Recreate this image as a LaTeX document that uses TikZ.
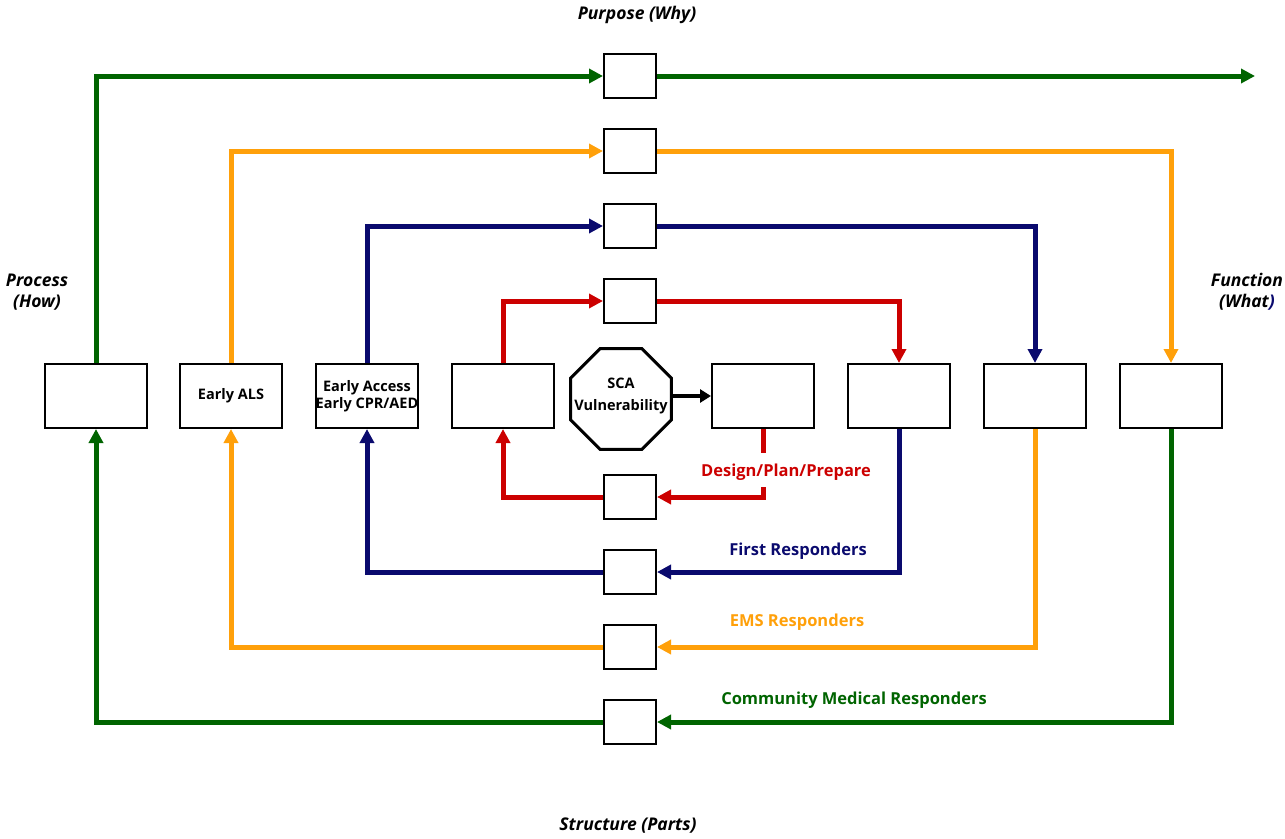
\documentclass[tikz,border=0pt]{standalone}
\usepackage{fontspec}
\setmainfont{Open Sans}
\usetikzlibrary{arrows.meta,shapes.geometric}
\definecolor{cgreen}{RGB}{0,100,0}
\definecolor{corange}{RGB}{255,160,10}
\definecolor{cnavy}{RGB}{10,10,110}
\definecolor{cred}{RGB}{204,0,0}
\tikzset{
  bigbox/.style={draw=black,line width=2pt,fill=white,minimum width=102pt,minimum height=64pt,inner sep=0pt,align=center,font=\fontsize{14.5}{17.5}\selectfont\bfseries},
  smallbox/.style={draw=black,line width=2pt,fill=white,minimum width=52pt,minimum height=44pt,inner sep=0pt},
  octa/.style={draw=black,line width=3pt,fill=white,regular polygon,regular polygon sides=8,minimum size=109pt,inner sep=0pt},
  octatext/.style={align=center,inner sep=0pt,font=\fontsize{14.5}{22}\selectfont\bfseries},
  conn/.style={line width=5pt,-{Triangle[length=14pt,width=14pt]}},
  plain/.style={line width=5pt},
  axlabel/.style={font=\fontsize{17.5}{21}\selectfont\bfseries\itshape,align=center},
  looplabel/.style={font=\fontsize{16.5}{19}\selectfont\bfseries}
}
\begin{document}
\begin{tikzpicture}[x=1pt,y=-1pt]
\useasboundingbox (0,0) rectangle (1285,838);
% row of boxes
\node[bigbox] (b1) at (96,396) {};
\node[bigbox] (b2) at (231,396) {Early ALS};
\node[bigbox] (b3) at (367,396) {Early Access\\Early CPR/AED};
\node[bigbox] (b4) at (503,396) {};
\node[octa] (b5) at (621,399) {};
\node[octatext] (b5t) at (621,396) {SCA\\Vulnerability};
\node[bigbox] (b6) at (763,396) {};
\node[bigbox] (b7) at (899,396) {};
\node[bigbox] (b8) at (1035,396) {};
\node[bigbox] (b9) at (1171,396) {};
% small boxes
\node[smallbox] (t1) at (630,76) {};
\node[smallbox] (t2) at (630,151) {};
\node[smallbox] (t3) at (630,226) {};
\node[smallbox] (t4) at (630,301) {};
\node[smallbox] (u1) at (630,497) {};
\node[smallbox] (u2) at (630,572) {};
\node[smallbox] (u3) at (630,647) {};
\node[smallbox] (u4) at (630,722) {};
\coordinate (gend) at (1255,76);
\coordinate (rgapA) at (763,453);
\coordinate (rgapB) at (763,487);
% green
\draw[conn,cgreen] (b1.north) |- (t1.west);
\draw[conn,cgreen] (t1.east) -- (gend);
\draw[conn,cgreen] (b9.south) |- (u4.east);
\draw[conn,cgreen] (u4.west) -| (b1.south);
% orange
\draw[conn,corange] (b2.north) |- (t2.west);
\draw[conn,corange] (t2.east) -| (b9.north);
\draw[conn,corange] (b8.south) |- (u3.east);
\draw[conn,corange] (u3.west) -| (b2.south);
% navy
\draw[conn,cnavy] (b3.north) |- (t3.west);
\draw[conn,cnavy] (t3.east) -| (b8.north);
\draw[conn,cnavy] (b7.south) |- (u2.east);
\draw[conn,cnavy] (u2.west) -| (b3.south);
% red
\draw[conn,cred] (b4.north) |- (t4.west);
\draw[conn,cred] (t4.east) -| (b7.north);
\draw[plain,cred] (b6.south) -- (rgapA);
\draw[conn,cred] (rgapB) |- (u1.east);
\draw[conn,cred] (u1.west) -| (b4.south);
% black
\draw[line width=4.5pt,black,-{Triangle[length=11pt,width=13pt]}] (b5.east |- b6.west) -- (b6.west);
% labels
\node[axlabel] (lpurpose) at (637,15) {Purpose (Why)};
\node[axlabel] (lprocess) at (37,292) {Process\\(How)};
\node[axlabel] (lfunction) at (1247,292) {Function\\(What\textcolor{cnavy}{)}};
\node[axlabel] (lstructure) at (628,826) {Structure (Parts)};
\node[looplabel,text=cred] (ldesign) at (786,472) {Design/Plan/Prepare};
\node[looplabel,text=cnavy] (lfirst) at (798,551) {First Responders};
\node[looplabel,text=corange] (lems) at (797,622) {EMS Responders};
\node[looplabel,text=cgreen] (lcomm) at (854,700) {Community Medical Responders};
\end{tikzpicture}
\end{document}
